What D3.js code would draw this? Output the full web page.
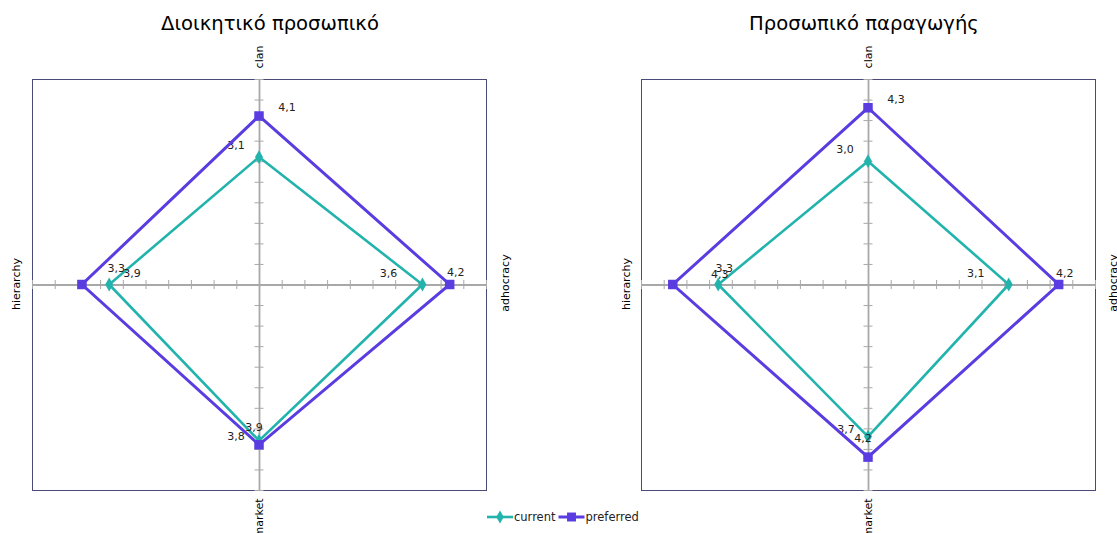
<!DOCTYPE html>
<html>
<head>
<meta charset="utf-8">
<script src="https://cdn.jsdelivr.net/npm/d3@7"></script>
<style>
  html, body { margin: 0; padding: 0; background: #ffffff; }
  svg { display: block; font-family: "DejaVu Sans", Verdana, sans-serif; }
</style>
</head>
<body>
<svg id="chart" width="1117" height="533"></svg>
<script>
// Competing-values culture profile: four quadrant axes, two series per panel
const categories = ["clan", "adhocracy", "market", "hierarchy"];
const seriesNames = ["current", "preferred"];
const panelTitles = ["Διοικητικό προσωπικό", "Προσωπικό παραγωγής"];

const adminCurrent = [3.1, 3.6, 3.8, 3.3];
const adminPreferred = [4.1, 4.2, 3.9, 3.9];
const productionCurrent = [3.0, 3.1, 3.7, 3.3];
const productionPreferred = [4.3, 4.2, 4.2, 4.3];

const axisMax = 5;
const tickStep = 0.5;

// direction of each category axis (x, y in data space)
const directions = {
  clan: [0, 1],
  adhocracy: [1, 0],
  market: [0, -1],
  hierarchy: [-1, 0]
};

const colors = { current: "#22b3ad", preferred: "#5a3ce0" };

// data label placement relative to each marker (per panel, per series, per category)
const labelOffsets = [
  {
    current:   [[-23, -12], [-34, -11], [-23, -5], [7, -16]],
    preferred: [[28, -9],   [6, -12],   [-5, -18], [50, -11]]
  },
  {
    current:   [[-23, -12], [-33, -11], [-22, -7], [6, -16]],
    preferred: [[28, -9],   [6, -11],   [-5, -19], [47, -10]]
  }
];

const panels = [
  { title: panelTitles[0], titleX: 270, box: { x0: 32, x1: 486, y0: 79, y1: 490 },
    values: { current: adminCurrent, preferred: adminPreferred }, sideLabelX: [16, 505] },
  { title: panelTitles[1], titleX: 864, box: { x0: 641, x1: 1095, y0: 79, y1: 490 },
    values: { current: productionCurrent, preferred: productionPreferred }, sideLabelX: [626, 1113] }
];

const svg = d3.select("#chart");
const fmt = v => d3.format(".1f")(v).replace(".", ",");
const ticks = d3.range(-axisMax, axisMax + 1e-9, tickStep);

panels.forEach((p, pi) => {
  const x = d3.scaleLinear().domain([-axisMax, axisMax]).range([p.box.x0, p.box.x1]);
  const y = d3.scaleLinear().domain([-axisMax, axisMax]).range([p.box.y1, p.box.y0]);
  const g = svg.append("g");

  // title
  g.append("text")
    .attr("x", p.titleX).attr("y", 30)
    .attr("text-anchor", "middle")
    .attr("font-size", 19.6)
    .attr("fill", "#000")
    .text(p.title);

  // plot area frame
  g.append("rect")
    .attr("x", x(-axisMax) + 0.5).attr("y", y(axisMax) + 0.5)
    .attr("width", x(axisMax) - x(-axisMax)).attr("height", y(-axisMax) - y(axisMax))
    .attr("fill", "none").attr("stroke", "#4a4a78").attr("stroke-width", 1);

  // horizontal axis through the origin
  const xAxis = d3.axisBottom(x).tickValues(ticks).tickSize(9).tickSizeOuter(0).tickFormat("");
  const gx = g.append("g").attr("transform", `translate(0,${y(0)})`).call(xAxis);
  gx.selectAll(".tick line").attr("y1", -4.5).attr("y2", 4.5);

  // vertical axis through the origin
  const yAxis = d3.axisLeft(y).tickValues(ticks).tickSize(9).tickSizeOuter(0).tickFormat("");
  const gy = g.append("g").attr("transform", `translate(${x(0)},0)`).call(yAxis);
  gy.selectAll(".tick line").attr("x1", -4.5).attr("x2", 4.5);

  [gx, gy].forEach(a => {
    a.select(".domain").attr("stroke", "#a8a8a8").attr("stroke-width", 1.8);
    a.selectAll(".tick line").attr("stroke", "#a8a8a8").attr("stroke-width", 1);
  });

  // category axis titles (vertical text)
  const catLabels = [
    { text: categories[0], cx: x(0), cy: 57 },
    { text: categories[1], cx: p.sideLabelX[1], cy: 283 },
    { text: categories[2], cx: x(0), cy: 518 },
    { text: categories[3], cx: p.sideLabelX[0], cy: 284 }
  ];
  catLabels.forEach(c => {
    g.append("text")
      .attr("transform", `translate(${c.cx},${c.cy}) rotate(-90)`)
      .attr("text-anchor", "middle")
      .attr("dy", "0.35em")
      .attr("font-size", 11)
      .attr("fill", "#000")
      .text(c.text);
  });

  // series polygons, markers and value labels
  seriesNames.forEach(s => {
    const pts = categories.map((c, i) => {
      const v = p.values[s][i];
      const d = directions[c];
      return { v, px: x(d[0] * v), py: y(d[1] * v), i };
    });
    const line = d3.line().x(d => d.px).y(d => d.py).curve(d3.curveLinearClosed);
    g.append("path")
      .attr("d", line(pts))
      .attr("fill", "none")
      .attr("stroke", colors[s])
      .attr("stroke-width", s === "preferred" ? 3 : 2.6)
      .attr("stroke-linejoin", "miter");

    const sym = s === "preferred" ? d3.symbolSquare : d3.symbolDiamond;
    const size = s === "preferred" ? 90 : 55;
    g.selectAll(null).data(pts).enter().append("path")
      .attr("d", d3.symbol().type(sym).size(size))
      .attr("transform", d => `translate(${d.px},${d.py})`)
      .attr("fill", colors[s]);

    g.selectAll(null).data(pts).enter().append("text")
      .attr("x", d => d.px + labelOffsets[pi][s][d.i][0])
      .attr("y", d => d.py + labelOffsets[pi][s][d.i][1])
      .attr("text-anchor", "middle")
      .attr("dy", "0.35em")
      .attr("font-size", 11)
      .attr("fill", "#222")
      .text(d => fmt(d.v));
  });
});

// legend
const legend = svg.append("g").attr("transform", "translate(487,517)");
let lx = 0;
seriesNames.forEach(s => {
  const item = legend.append("g").attr("transform", `translate(${lx},0)`);
  item.append("line").attr("x1", 0).attr("x2", 26).attr("y1", 0).attr("y2", 0)
    .attr("stroke", colors[s]).attr("stroke-width", s === "preferred" ? 3 : 2.6);
  item.append("path")
    .attr("d", d3.symbol().type(s === "preferred" ? d3.symbolSquare : d3.symbolDiamond)
      .size(s === "preferred" ? 80 : 50))
    .attr("transform", "translate(13,0)")
    .attr("fill", colors[s]);
  const t = item.append("text").attr("x", 27).attr("dy", "0.35em")
    .attr("font-size", 11.5).attr("fill", "#222").text(s);
  lx += 27 + t.node().getComputedTextLength() + 3;
});
</script>
</body>
</html>
